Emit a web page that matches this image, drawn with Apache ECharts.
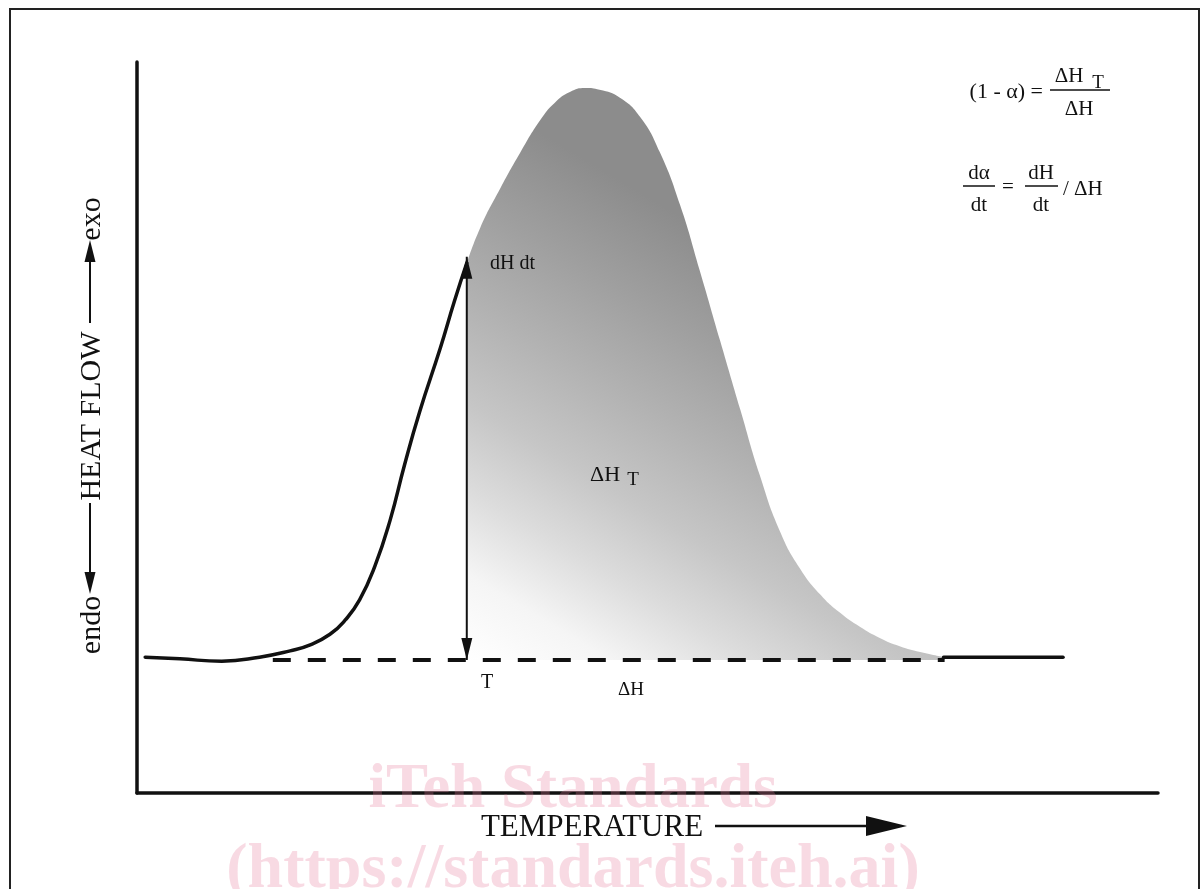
<!DOCTYPE html>
<html><head><meta charset="utf-8">
<script src="https://cdn.jsdelivr.net/npm/echarts@6/dist/echarts.min.js"></script>
<style>html,body{margin:0;padding:0;background:#fff}#c{width:1202px;height:889px}</style>
</head><body><div id="c"></div>
<script>
// Temperature in arbitrary units (0–100); heat flow relative to baseline (0 = baseline, 100 = peak)
const riseT  = [0.8, 4.2, 8.3, 12.0, 15.0, 16.9, 18.9, 20.4, 21.8, 23.3, 24.8, 26.2, 27.7, 29.7, 31.1, 32.3];
const riseHF = [0.5, 0.2, -0.2, 0.5, 1.6, 2.6, 4.5, 7.0, 10.5, 16.4, 24.5, 34.1, 43.5, 54.5, 62.8, 69.4];

const peakT  = [32.3, 33.6, 35.6, 37.5, 39.5, 40.9, 42.4, 43.9, 45.3, 47.3, 49.3, 51.2, 53.2, 55.1, 57.1, 59.1, 61.0, 63.0, 64.9, 66.9, 68.9, 70.8, 72.8, 74.7, 76.7, 79.1];
const peakHF = [69.4, 75.5, 82.5, 88.6, 94.4, 97.4, 99.3, 100, 99.7, 98.3, 94.9, 88.8, 79.5, 68.2, 55.9, 43.7, 32.3, 22.4, 16.1, 11.5, 8.2, 5.8, 3.8, 2.4, 1.4, 0.5];

const tailT  = [79.0, 90.7];
const tailHF = [0.5, 0.5];

const baselineT  = [13.3, 79.1];
const baselineHF = [0, 0];

const markT = 32.3;          // temperature T of the dH/dt arrow
const markHF = [0, 70.5];    // arrow from baseline to curve

const zip = (a, b) => a.map((v, i) => [v, b[i]]);
const serif = '"Liberation Serif", "Times New Roman", serif';

const upHead = 'path://M5,0L10,22L0,22Z';
const downHead = 'path://M0,0L10,0L5,22Z';

const chart = echarts.init(document.getElementById('c'), null, {renderer: 'canvas'});

function txt(x, y, text, size, opts) {
  return Object.assign({
    type: 'text', x: x, y: y, z: 20,
    style: Object.assign({text: text, font: size + 'px ' + serif, fill: '#111', align: 'center', verticalAlign: 'middle'}, (opts && opts.style) || {})
  }, (opts && opts.el) || {});
}
function seg(x1, y1, x2, y2, w) {
  return {type: 'line', z: 20, shape: {x1: x1, y1: y1, x2: x2, y2: y2}, style: {stroke: '#111', lineWidth: w}};
}
function tri(pts) {
  return {type: 'polygon', z: 20, shape: {points: pts}, style: {fill: '#111'}};
}

chart.setOption({
  animation: false,
  backgroundColor: '#fff',
  grid: {left: 137, right: 44, top: 62, bottom: 96},
  xAxis: {
    type: 'value', min: 0, max: 100,
    axisLine: {show: true, onZero: false, lineStyle: {color: '#111', width: 3.5}},
    axisTick: {show: false}, axisLabel: {show: false}, splitLine: {show: false}
  },
  yAxis: {
    type: 'value', min: -23.25, max: 104.55,
    axisLine: {show: true, onZero: false, lineStyle: {color: '#111', width: 3.5}},
    axisTick: {show: false}, axisLabel: {show: false}, splitLine: {show: false}
  },
  series: [
    {
      name: 'area', type: 'line', data: zip(peakT, peakHF),
      smooth: 0.5, showSymbol: false, symbol: 'none',
      lineStyle: {width: 0, opacity: 0},
      areaStyle: {
        origin: 'auto', opacity: 1,
        color: new echarts.graphic.LinearGradient(0, 1, 0.527, 0.264, [
          {offset: 0, color: '#ffffff'},
          {offset: 0.15, color: '#f5f5f5'},
          {offset: 0.3, color: '#dcdcdc'},
          {offset: 0.45, color: '#c6c6c6'},
          {offset: 0.63, color: '#b2b2b2'},
          {offset: 0.8, color: '#a0a0a0'},
          {offset: 1, color: '#8c8c8c'}
        ])
      },
      z: 2
    },
    {
      name: 'rise', type: 'line', data: zip(riseT, riseHF),
      smooth: 0.5, symbol: 'none',
      lineStyle: {color: '#111', width: 3.5, cap: 'round', join: 'round'}, z: 4
    },
    {
      name: 'tail', type: 'line', data: zip(tailT, tailHF), symbol: 'none',
      lineStyle: {color: '#111', width: 3.5, cap: 'round'}, z: 4
    },
    {
      name: 'baseline', type: 'line', data: zip(baselineT, baselineHF), symbol: 'none',
      lineStyle: {color: '#111', width: 4, type: [18, 17]}, z: 4
    },
    {
      name: 'arrow', type: 'line', data: [[markT, markHF[0]], [markT, markHF[1]]], symbol: 'none',
      lineStyle: {color: '#111', width: 2}, z: 5
    },
    {
      name: 'heads', type: 'scatter', z: 6, silent: true,
      data: [
        {value: [markT, markHF[0]], symbol: downHead, symbolSize: [11, 22], symbolOffset: [0, -11]},
        {value: [markT, markHF[1]], symbol: upHead, symbolSize: [11, 22], symbolOffset: [0, 11]}
      ],
      itemStyle: {color: '#111', opacity: 1}
    }
  ],
  graphic: [
    // frame
    {type: 'rect', z: 0, shape: {x: 10, y: 9, width: 1189, height: 900}, style: {fill: 'none', stroke: '#222', lineWidth: 2}},
    // watermark
    txt(573, 791, 'iTeh Standards', 63, {style: {font: 'bold 63px ' + serif, fill: 'rgba(230,120,150,0.27)'}, el: {z: 1}}),
    txt(573, 870, '(https://standards.iteh.ai)', 64, {style: {font: 'bold 64px ' + serif, fill: 'rgba(230,120,150,0.27)'}, el: {z: 1}}),
    // x axis label
    txt(592, 828, 'TEMPERATURE', 31),
    seg(715, 826, 870, 826, 2.5),
    tri([[866, 816], [907, 826], [866, 836]]),
    // y axis label
    txt(92, 219, 'exo', 30, {el: {rotation: Math.PI / 2}}),
    tri([[90, 240], [84.5, 262], [95.5, 262]]),
    seg(90, 260, 90, 323, 2),
    txt(92, 416, 'HEAT FLOW', 30, {el: {rotation: Math.PI / 2}}),
    seg(90, 503, 90, 575, 2),
    tri([[84.5, 572], [95.5, 572], [90, 594]]),
    txt(92, 625, 'endo', 30, {el: {rotation: Math.PI / 2}}),
    // annotations in plot
    txt(490, 264, 'dH dt', 20, {style: {align: 'left'}}),
    txt(605, 475, 'ΔH', 22),
    txt(633, 480, 'T', 19),
    txt(487, 683, 'T', 20),
    txt(631, 690, 'ΔH', 19),
    // formula 1
    txt(1043, 92, '(1 - α) =', 22, {style: {align: 'right'}}),
    txt(1069, 76, 'ΔH', 21),
    txt(1098, 83, 'T', 19),
    seg(1050, 90, 1110, 90, 1.5),
    txt(1079, 109, 'ΔH', 21),
    // formula 2
    txt(979, 173, 'dα', 21),
    seg(963, 186, 995, 186, 1.5),
    txt(979, 205, 'dt', 21),
    txt(1008, 187, '=', 21),
    txt(1041, 173, 'dH', 21),
    seg(1025, 186, 1058, 186, 1.5),
    txt(1041, 205, 'dt', 21),
    txt(1063, 189, '/ ΔH', 21, {style: {align: 'left'}})
  ]
});
</script>
</body></html>
